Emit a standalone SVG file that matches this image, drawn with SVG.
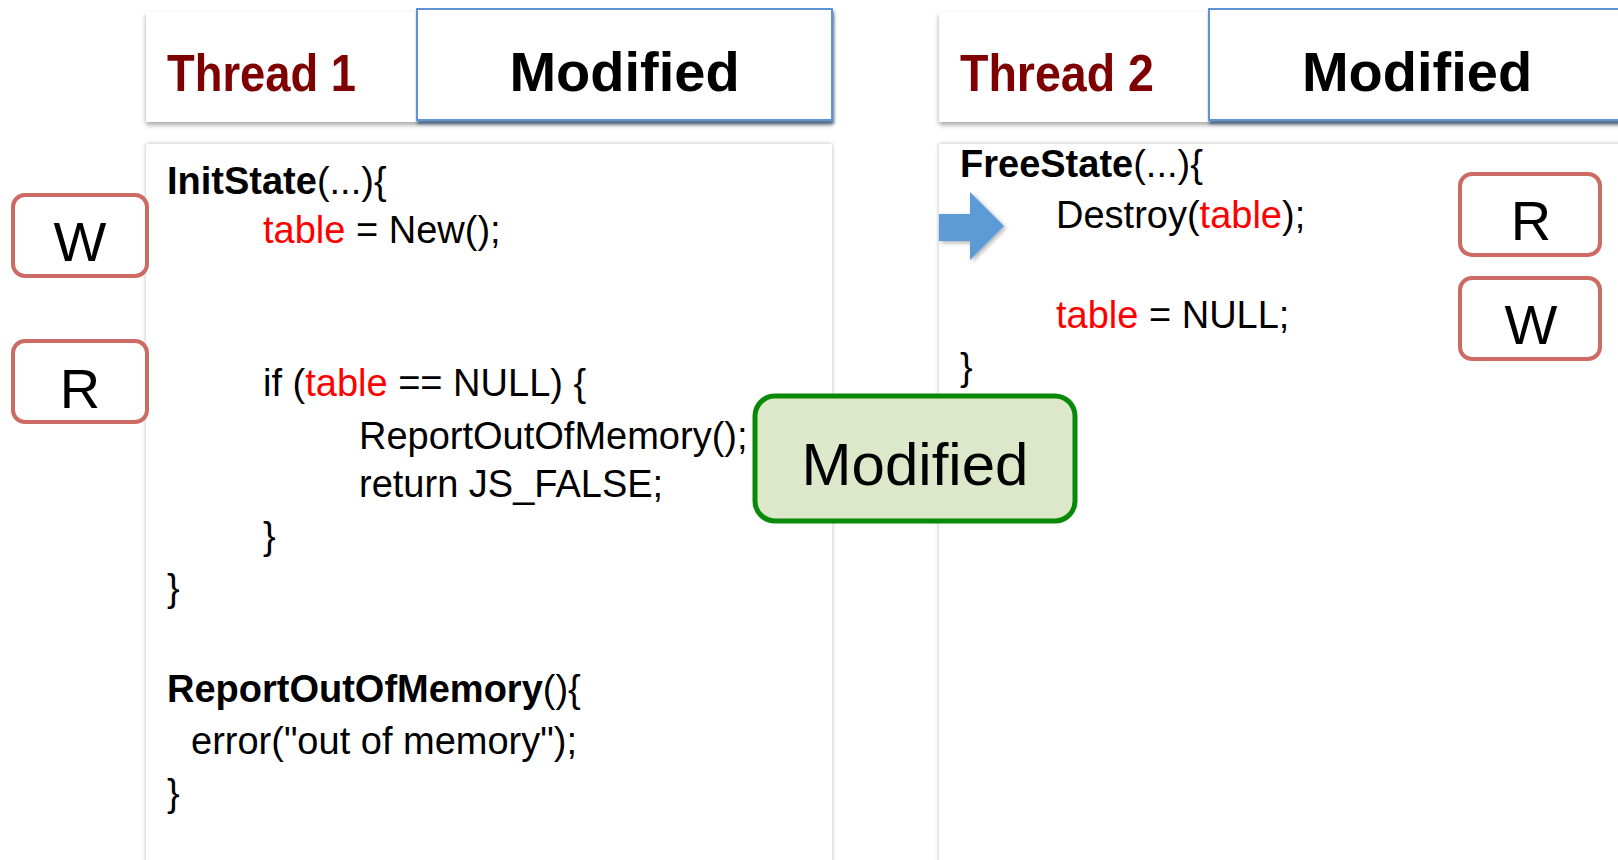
<svg xmlns="http://www.w3.org/2000/svg" width="1618" height="860" viewBox="0 0 1618 860">
<defs>
<filter id="panelSh" x="-5%" y="-5%" width="110%" height="110%"><feDropShadow dx="0" dy="0" stdDeviation="2" flood-color="#000" flood-opacity="0.28"/></filter>
<filter id="headSh" x="-5%" y="-10%" width="110%" height="130%"><feDropShadow dx="0" dy="3" stdDeviation="2.5" flood-color="#000" flood-opacity="0.35"/></filter>
<filter id="modSh" x="-5%" y="-10%" width="110%" height="130%"><feDropShadow dx="1" dy="3" stdDeviation="1.5" flood-color="#1f3d66" flood-opacity="0.7"/></filter>
<filter id="arrSh" x="-20%" y="-20%" width="150%" height="150%"><feDropShadow dx="2" dy="2" stdDeviation="2" flood-color="#000" flood-opacity="0.3"/></filter>
</defs>
<style>
.panel{fill:#fff;filter:url(#panelSh)}
.head{fill:#fff;filter:url(#headSh)}
.mod{fill:#fff;stroke:#5f93d3;stroke-width:2;filter:url(#modSh)}
.thr{font-family:"Liberation Sans",Arial,sans-serif;font-weight:bold;font-size:52px;fill:#7f0000}
.modt{font-family:"Liberation Sans",Arial,sans-serif;font-weight:bold;font-size:56px;fill:#000;text-anchor:middle}
.code{font-family:"Liberation Sans",Arial,sans-serif;font-size:38px;fill:#000}
.b{font-weight:bold}
.red{fill:#ff0000}
.rw{fill:#fff;stroke:#cd6a63;stroke-width:4}
.rwt{font-family:"Liberation Sans",Arial,sans-serif;font-size:56px;fill:#000;text-anchor:middle}
</style>
<rect width="1618" height="860" fill="#fff"/>

<g id="thread1-panel">
<rect class="panel" x="146" y="144" width="686" height="740"/>
</g>
<g id="thread2-panel">
<rect class="panel" x="939" y="144" width="700" height="740"/>
</g>

<g id="thread1-header">
<rect class="head" x="146" y="12" width="686" height="110"/>
<text class="thr" x="167" y="91" textLength="189" lengthAdjust="spacingAndGlyphs">Thread 1</text>
<rect class="mod" x="417" y="9" width="415" height="111"/>
<text class="modt" x="624.5" y="91">Modified</text>
</g>

<g id="thread2-header">
<rect class="head" x="939" y="12" width="700" height="110"/>
<text class="thr" x="960" y="91" textLength="194" lengthAdjust="spacingAndGlyphs">Thread 2</text>
<rect class="mod" x="1209" y="9" width="420" height="111"/>
<text class="modt" x="1417" y="91">Modified</text>
</g>

<g id="thread1-code" class="code">
<text class="code" x="167" y="194"><tspan class="b">InitState</tspan>(...){</text>
<text class="code" x="263" y="243"><tspan class="red">table</tspan> = New();</text>
<text class="code" x="263" y="396">if (<tspan class="red">table</tspan> == NULL) {</text>
<text class="code" x="359" y="449">ReportOutOfMemory();</text>
<text class="code" x="359" y="497">return JS_FALSE;</text>
<text class="code" x="263" y="549">}</text>
<text class="code" x="167" y="601">}</text>
<text class="code" x="167" y="702"><tspan class="b">ReportOutOfMemory</tspan>(){</text>
<text class="code" x="191" y="754">error("out of memory");</text>
<text class="code" x="167" y="806">}</text>
</g>

<g id="thread2-code">
<text class="code" x="960" y="177"><tspan class="b">FreeState</tspan>(...){</text>
<text class="code" x="1056" y="228">Destroy(<tspan class="red">table</tspan>);</text>
<text class="code" x="1056" y="328"><tspan class="red">table</tspan> = NULL;</text>
<text class="code" x="960" y="380">}</text>
</g>

<g id="left-W">
<rect class="rw" x="13" y="195" width="134" height="81" rx="12"/>
<text class="rwt" x="80" y="261">W</text>
</g>
<g id="left-R">
<rect class="rw" x="13" y="341" width="134" height="81" rx="12"/>
<text class="rwt" x="80" y="408">R</text>
</g>
<g id="right-R">
<rect class="rw" x="1460" y="174" width="140" height="81" rx="12"/>
<text class="rwt" x="1531" y="240">R</text>
</g>
<g id="right-W">
<rect class="rw" x="1460" y="278" width="140" height="81" rx="12"/>
<text class="rwt" x="1531" y="344">W</text>
</g>

<g id="pointer">
<polygon points="939,214 970,214 970,192 1004,226 970,260 970,241 939,241" fill="#5b9bd5" filter="url(#arrSh)"/>
</g>

<g id="modified-callout">
<rect x="755" y="396" width="320" height="125" rx="20" fill="#dde7c9" stroke="#088a08" stroke-width="5"/>
<text x="915" y="485" font-family="Liberation Sans, Arial, sans-serif" font-size="60" fill="#000" text-anchor="middle">Modified</text>
</g>
</svg>
